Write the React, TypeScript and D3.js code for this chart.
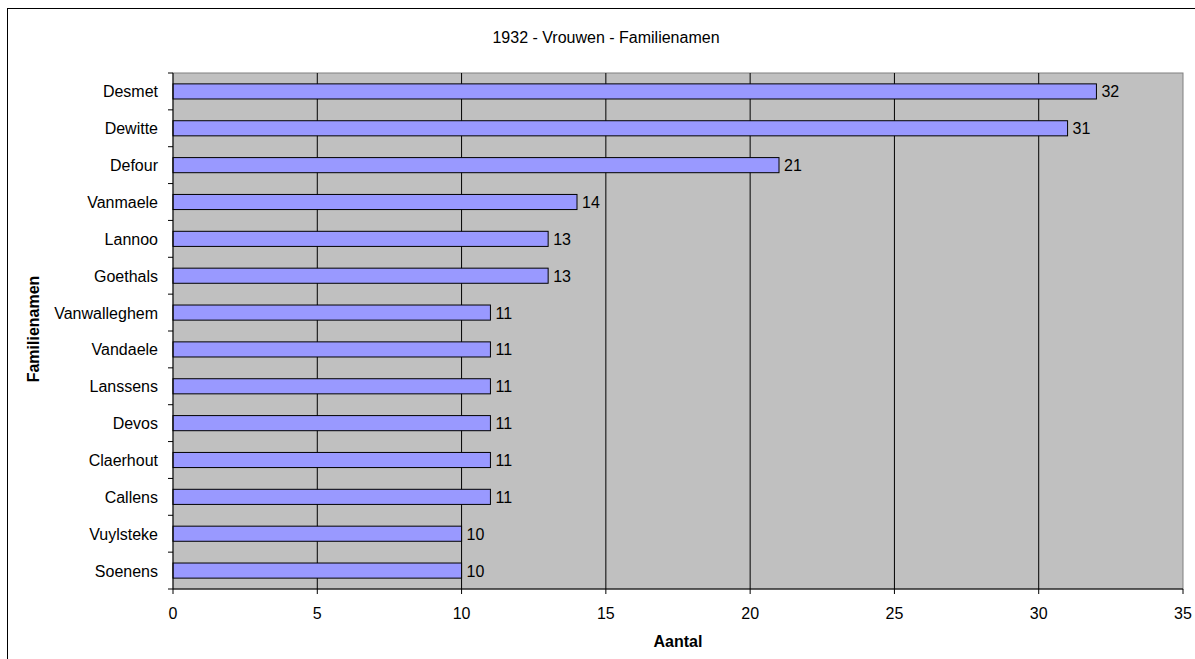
import React from "react";
import * as d3 from "d3";

const names = ["Desmet","Dewitte","Defour","Vanmaele","Lannoo","Goethals","Vanwalleghem","Vandaele","Lanssens","Devos","Claerhout","Callens","Vuylsteke","Soenens"];
const counts = [32,31,21,14,13,13,11,11,11,11,11,11,10,10];
const xTicks = [0,5,10,15,20,25,30,35];
const title = "1932 - Vrouwen - Familienamen";
const xTitle = "Aantal";
const yTitle = "Familienamen";

export default function App() {
  const W = 1195, H = 659;
  const L = 173, R = 1183, T = 73, B = 589;
  const x = d3.scaleLinear().domain([0, 35]).range([L, R]);
  const y = d3.scaleBand().domain(names).range([T, B]).paddingInner(0.59).paddingOuter(0.295);
  const yb = d3.scaleBand().domain(names).range([T, B]);
  const font = "Arial, 'Liberation Sans', sans-serif";
  const fs = 16;
  return (
    <svg width={W} height={H} style={{ position: "absolute", left: 0, top: 0 }} fontFamily={font}>
      <rect x={0} y={0} width={W} height={H} fill="#fff" />
      <rect x={7.5} y={8.5} width={1300} height={800} fill="none" stroke="#000" strokeWidth={1} />
      <text x={606} y={43} textAnchor="middle" fontSize={fs}>{title}</text>
      <rect x={L} y={T} width={R - L} height={B - T} fill="#C0C0C0" stroke="#808080" strokeWidth={1} />
      {xTicks.slice(1, -1).map(t => (
        <line key={t} x1={x(t)} x2={x(t)} y1={T} y2={B} stroke="#000" strokeWidth={1} />
      ))}
      {names.map((n, i) => (
        <g key={n}>
          <rect x={x(0)} y={y(n)!} width={x(counts[i]) - x(0)} height={y.bandwidth()} fill="#9999FF" stroke="#000" strokeWidth={1} />
          <text x={x(counts[i]) + 5} y={y(n)! + y.bandwidth() / 2 + 6} fontSize={fs}>{counts[i]}</text>
          <text x={L - 15} y={y(n)! + y.bandwidth() / 2 + 6} fontSize={fs} textAnchor="end">{n}</text>
        </g>
      ))}
      {names.map(n => (
        <line key={"t" + n} x1={L - 5} x2={L} y1={yb(n)!} y2={yb(n)!} stroke="#000" />
      ))}
      <line x1={L - 5} x2={L} y1={B} y2={B} stroke="#000" />
      <line x1={L} x2={L} y1={T} y2={B} stroke="#000" />
      <line x1={L} x2={R} y1={B} y2={B} stroke="#000" />
      {xTicks.map(t => (
        <g key={"x" + t}>
          <line x1={x(t)} x2={x(t)} y1={B} y2={B + 5} stroke="#000" />
          <text x={x(t)} y={619} fontSize={fs} textAnchor="middle">{t}</text>
        </g>
      ))}
      <text x={678} y={647} fontSize={fs} fontWeight="bold" textAnchor="middle">{xTitle}</text>
      <text transform={`translate(39,329) rotate(-90)`} fontSize={fs} fontWeight="bold" textAnchor="middle">{yTitle}</text>
    </svg>
  );
}
